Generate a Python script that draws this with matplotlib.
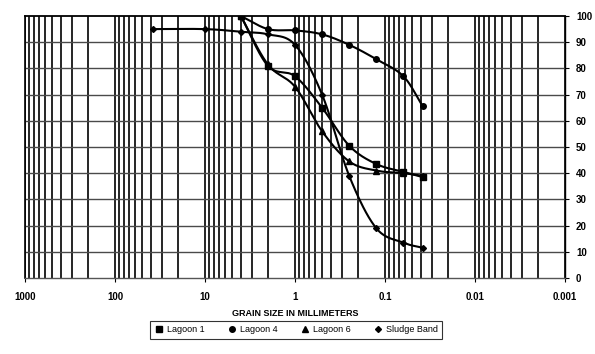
import numpy as np
import matplotlib
matplotlib.use("Agg")
import matplotlib.pyplot as plt
from matplotlib.ticker import FixedLocator, NullFormatter
from matplotlib.lines import Line2D

matplotlib.rcParams['font.family'] = ['Liberation Sans', 'DejaVu Sans']

# Grain size (mm) and percent passing
sizes = [4, 2, 1, 0.5, 0.25, 0.125, 0.0625, 0.038]
lagoon1 = [100, 81, 77, 65, 50.5, 43.5, 40.5, 38.5]
lagoon4 = [100, 95, 94.5, 93, 89, 83.5, 77, 65.5]
lagoon6 = [100, 81.5, 73, 56, 44.5, 41, 40, 39]
sludge_sizes = [38, 10, 4, 2, 1, 0.5, 0.25, 0.125, 0.0625, 0.038]
sludge = [95, 95, 94, 93, 89, 70, 39, 19, 13.5, 11.5]

x_ticks = [1000, 100, 10, 1, 0.1, 0.01, 0.001]
x_tick_labels = ["1000", "100", "10", "1", "0.1", "0.01", "0.001"]
y_ticks = list(range(0, 101, 10))


def smooth(xs, ys, n=30):
    # Catmull-Rom through the points in log-x space (like Excel smoothed lines)
    lx = np.log10(xs)
    p = np.column_stack([lx, ys])
    p = np.vstack([2 * p[0] - p[1], p, 2 * p[-1] - p[-2]])
    out = []
    for i in range(1, len(p) - 2):
        p0, p1, p2, p3 = p[i - 1], p[i], p[i + 1], p[i + 2]
        t = np.linspace(0, 1, n)[:, None]
        seg = 0.5 * ((2 * p1) + (-p0 + p2) * t + (2 * p0 - 5 * p1 + 4 * p2 - p3) * t ** 2
                     + (-p0 + 3 * p1 - 3 * p2 + p3) * t ** 3)
        out.append(seg)
    out = np.vstack(out)
    return 10 ** out[:, 0], out[:, 1]


fig = plt.figure(figsize=(5.95, 3.54), dpi=100)
ax = fig.add_axes([25 / 595, 1 - 278 / 354, (565 - 25) / 595, (278 - 16) / 354])

ax.set_xscale('log')
ax.set_xlim(1000, 0.001)
ax.set_ylim(0, 100)

# vertical grid lines at 1..9 x 10^k
vlines = [m * 10.0 ** k for k in range(-3, 3) for m in range(1, 10)] + [1000]
for v in vlines:
    ax.axvline(v, color='black', lw=1.2, zorder=1)
for h in y_ticks[1:-1]:
    ax.axhline(h, color='#4a4a4a', lw=1.0, zorder=1)

series = [
    (sizes, lagoon1, 's', 4.0, "Lagoon 1"),
    (sizes, lagoon4, 'o', 4.0, "Lagoon 4"),
    (sizes, lagoon6, '^', 4.0, "Lagoon 6"),
    (sludge_sizes, sludge, 'D', 3.0, "Sludge Band"),
]
handles = []
for xs, ys, mk, ms, name in series:
    sx, sy = smooth(xs, ys)
    ax.plot(sx, sy, color='black', lw=1.5, zorder=3)
    ax.plot(xs, ys, linestyle='none', marker=mk, ms=ms, color='black', zorder=4)
    handles.append(Line2D([], [], linestyle='none', marker=mk, ms=ms, color='black', label=name))

ax.xaxis.set_major_locator(FixedLocator(x_ticks))
ax.set_xticklabels(x_tick_labels)
ax.xaxis.set_minor_formatter(NullFormatter())
ax.tick_params(axis='x', which='minor', length=0)
ax.tick_params(axis='x', which='major', length=3, width=0.8, labelsize=7, pad=7)
for lbl in ax.get_xticklabels():
    lbl.set_fontweight('bold')

ax.yaxis.tick_right()
ax.set_yticks(y_ticks)
ax.tick_params(axis='y', length=3, width=0.8, labelsize=7, pad=5)
for lbl in ax.get_yticklabels():
    lbl.set_fontweight('bold')

ax.spines['top'].set_linewidth(1.3)
ax.spines['left'].set_linewidth(1.2)
ax.spines['right'].set_linewidth(1.0)
ax.spines['bottom'].set_linewidth(1.0)
ax.spines['bottom'].set_color('#555555')

ax.set_xlabel("GRAIN SIZE IN MILLIMETERS", fontsize=6.5, fontweight='bold', labelpad=5)

leg = fig.legend(handles=handles, loc='center', bbox_to_anchor=(296 / 595, 1 - 330 / 354),
                 ncol=4, fontsize=6.5, frameon=True, fancybox=False, edgecolor='black',
                 handletextpad=0.4, columnspacing=2.5, borderpad=0.5, handlelength=1.0)
leg.get_frame().set_linewidth(0.8)

fig.savefig('out.png', dpi=100, facecolor='white')
